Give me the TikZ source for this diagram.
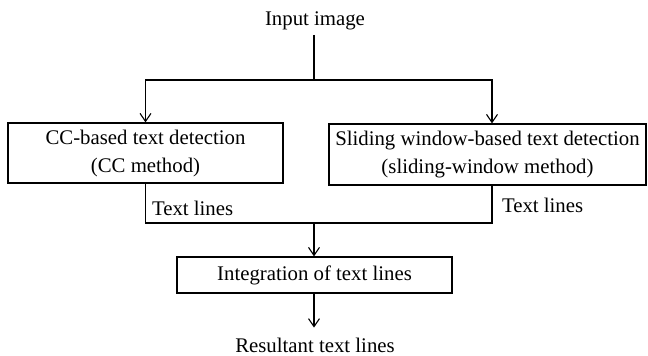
\documentclass[tikz,border=0pt]{standalone}
\usepackage{fontspec}
\setmainfont{Liberation Serif}
\usetikzlibrary{arrows.meta}
\begin{document}
\begin{tikzpicture}[x=1pt,y=-1pt,
  every node/.style={font=\fontsize{20.8}{28}\selectfont, text=black},
  procbox/.style={draw=black, line width=1.3pt, rectangle, align=center, inner sep=0pt},
  plain/.style={inner sep=0pt, outer sep=0pt},
  link/.style={draw=black, line width=1.3pt},
  arr/.style={link, -{Straight Barb[length=8pt,width=11pt,line width=1.1pt]}}
]
\useasboundingbox (0,0) rectangle (648,356);
% nodes
\node[plain, anchor=base] (in) at (315,25) {Input image};
\node[procbox, minimum width=275pt, minimum height=60pt] (cc) at (145.5,153)
  {CC-based text detection\\(CC method)};
\node[procbox, minimum width=317pt, minimum height=61pt] (sw) at (487.5,154.5)
  {Sliding window-based text detection\\(sliding-window method)};
\node[procbox, minimum width=275pt, minimum height=36pt] (int) at (314.5,275)
  {Integration of text lines};
\node[plain, anchor=base] (res) at (315,352) {Resultant text lines};
\node[plain, anchor=base west] (tl1) at (152,215) {Text lines};
\node[plain, anchor=base west] (tl2) at (502,212) {Text lines};
% junctions
\coordinate (j1) at (314,80);
\coordinate (rx) at (492,80);
\coordinate (j2) at (314,223);
% connectors
\draw[link] ([yshift=-5.5pt]in.south -| j1) -- (j1);
\draw[arr] (j1) -| (cc.north);
\draw[arr] (j1) -- (rx) -- (rx |- sw.north);
\draw[link] (cc.south) |- (j2);
\draw[link] (rx |- sw.south) |- (j2);
\draw[arr] (j2) -- (j2 |- int.north);
\draw[arr] (j2 |- int.south) -- ([yshift=10pt]res.north -| j2);
\end{tikzpicture}
\end{document}
